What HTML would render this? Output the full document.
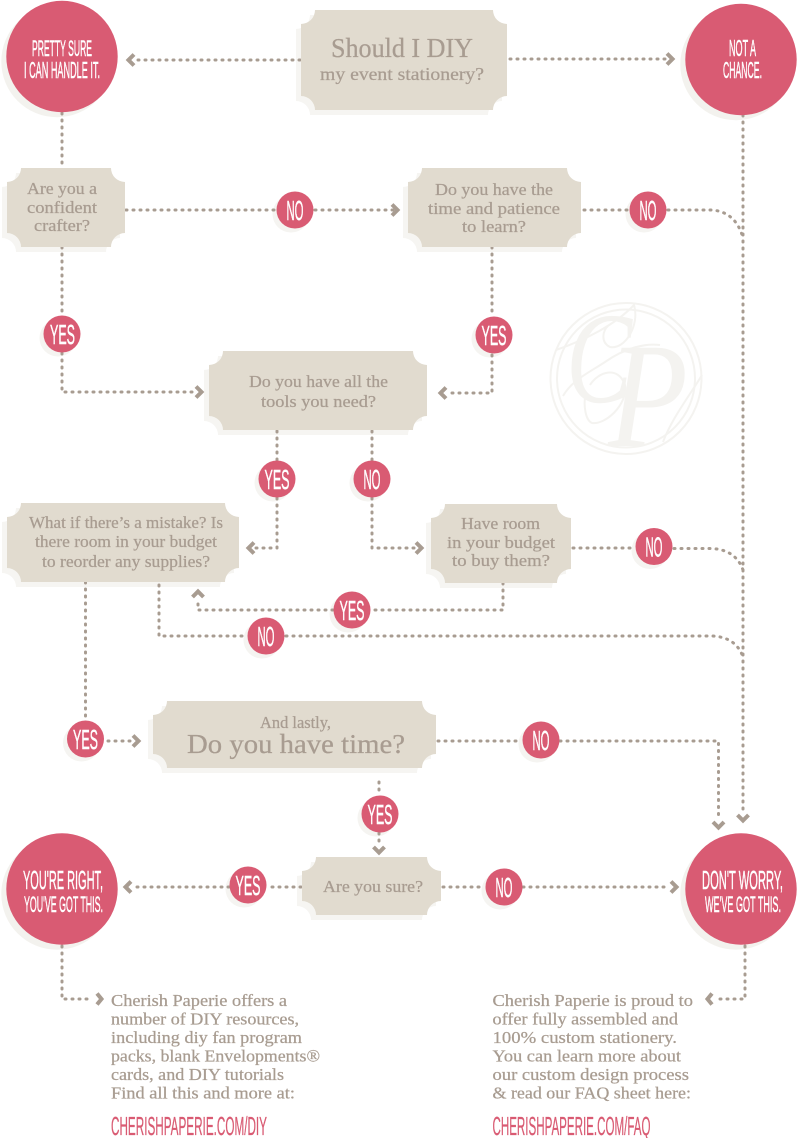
<!DOCTYPE html>
<html><head><meta charset="utf-8"><title>Should I DIY my event stationery?</title>
<style>
html,body{margin:0;padding:0;background:#fff}
svg{display:block}
.s{font-family:"Liberation Serif",serif;fill:#a89c91;stroke:#a89c91;stroke-width:.25;text-anchor:start}
.n{font-family:"Liberation Sans Narrow","Liberation Sans",sans-serif;fill:#fff;stroke:#fff;stroke-width:.45;font-weight:400}
.d{fill:none;stroke:#a89c91;stroke-width:3;stroke-linecap:round;stroke-dasharray:1 6}
.a{fill:none;stroke:#a89c91;stroke-width:4}
.p{fill:#d95b73}
</style></head><body>
<svg width="797" height="1138" viewBox="0 0 797 1138" xmlns="http://www.w3.org/2000/svg">
<defs>
<g id="boxes">
<path d="M315,10H493A14 14 0 0 0 507,24V96A14 14 0 0 0 493,110H315A14 14 0 0 0 301,96V24A14 14 0 0 0 315,10Z"/>
<path d="M21,168H111A14 14 0 0 0 125,182V233A14 14 0 0 0 111,247H21A14 14 0 0 0 7,233V182A14 14 0 0 0 21,168Z"/>
<path d="M422,168H567A14 14 0 0 0 581,182V233A14 14 0 0 0 567,247H422A14 14 0 0 0 408,233V182A14 14 0 0 0 422,168Z"/>
<path d="M223,351H413A14 14 0 0 0 427,365V416A14 14 0 0 0 413,430H223A14 14 0 0 0 209,416V365A14 14 0 0 0 223,351Z"/>
<path d="M21,503H225A14 14 0 0 0 239,517V568A14 14 0 0 0 225,582H21A14 14 0 0 0 7,568V517A14 14 0 0 0 21,503Z"/>
<path d="M445,504H557A14 14 0 0 0 571,518V569A14 14 0 0 0 557,583H445A14 14 0 0 0 431,569V518A14 14 0 0 0 445,504Z"/>
<path d="M167,701H422A14 14 0 0 0 436,715V754A14 14 0 0 0 422,768H167A14 14 0 0 0 153,754V715A14 14 0 0 0 167,701Z"/>
<path d="M316,857H427A14 14 0 0 0 441,871V901A14 14 0 0 0 427,915H316A14 14 0 0 0 302,901V871A14 14 0 0 0 316,857Z"/>
</g>
<g id="big">
<circle cx="62" cy="56.5" r="55.7"/>
<circle cx="741" cy="59.5" r="55.7"/>
<circle cx="62" cy="889" r="55.7"/>
<circle cx="741" cy="889" r="55.7"/>
</g>
<g id="small">
<circle cx="295" cy="210" r="18.5"/>
<circle cx="648" cy="210" r="18.5"/>
<circle cx="62" cy="334" r="18.5"/>
<circle cx="494" cy="335" r="18.5"/>
<circle cx="277" cy="479" r="18.5"/>
<circle cx="372" cy="479" r="18.5"/>
<circle cx="654" cy="546.5" r="18.5"/>
<circle cx="352" cy="610" r="18.5"/>
<circle cx="266" cy="636" r="18.5"/>
<circle cx="85.5" cy="739" r="18.5"/>
<circle cx="541" cy="740" r="18.5"/>
<circle cx="380" cy="814" r="18.5"/>
<circle cx="248" cy="885" r="18.5"/>
<circle cx="504" cy="887" r="18.5"/>
</g>
</defs>

<!-- watermark -->
<g fill="none" stroke="#f4f3f0" stroke-width="2">
<circle cx="626" cy="378.5" r="75.5"/>
<circle cx="626" cy="378.5" r="69"/>
<path d="M556,350C585,340 615,325 634,305C640,325 625,350 610,347C600,342 603,330 608,326"/>
<path d="M563,396C572,380 590,372 605,362C625,348 645,343 660,345"/>
<path d="M590,385C598,372 618,365 625,385C628,405 605,425 592,423C585,420 584,405 585,398"/>
<path d="M663,442C672,418 690,395 702,375"/>
</g>
<text x="566" y="402" font-family="Liberation Serif,serif" font-style="italic" font-size="130" textLength="66" lengthAdjust="spacingAndGlyphs" fill="#f4f3f0">C</text>
<text x="608" y="446" font-family="Liberation Serif,serif" font-style="italic" font-size="150" textLength="80" lengthAdjust="spacingAndGlyphs" fill="#f4f3f0">P</text>

<!-- shadows -->
<use href="#boxes" transform="translate(-5,5)" fill="#f6f5f2"/>
<use href="#big" transform="translate(-5,5)" fill="#f3f2ee"/>
<use href="#small" transform="translate(-4,4)" fill="#f5f4f1"/>

<!-- connectors -->
<path class="d" d="M300,60H136"/>
<path class="d" d="M510,59H666"/>
<path class="d" d="M62,113V168"/>
<path class="d" d="M126,210H277"/>
<path class="d" d="M315,210H394"/>
<path class="d" d="M62,247V316"/>
<path class="d" d="M62,353V392H196"/>
<path class="d" d="M584,210H629"/>
<path class="d" d="M668,210H712Q736,212 743,238"/>
<path class="d" d="M743,115V813"/>
<path class="d" d="M492,247V316"/>
<path class="d" d="M492,355V393H447"/>
<path class="d" d="M277,431V460"/>
<path class="d" d="M372,431V460"/>
<path class="d" d="M277,498V548H256"/>
<path class="d" d="M372,498V548H416"/>
<path class="d" d="M573,548H635"/>
<path class="d" d="M674,548.500H712Q736,550 743,570"/>
<path class="d" d="M503,583V610H371"/>
<path class="d" d="M333,610H198V598"/>
<path class="d" d="M159,585V636H247"/>
<path class="d" d="M286,636H712Q736,637 743,657"/>
<path class="d" d="M85.500,582V720"/>
<path class="d" d="M108,741H131"/>
<path class="d" d="M438,741H522"/>
<path class="d" d="M560,741H718.500V820"/>
<path class="d" d="M379,782V796"/>
<path class="d" d="M379,833V846"/>
<path class="d" d="M301,887H267"/>
<path class="d" d="M229,887H132"/>
<path class="d" d="M443,887H485"/>
<path class="d" d="M523,887H670"/>
<path class="d" d="M62,946V999H90"/>
<path class="d" d="M745,946V999H718"/>

<!-- arrowheads -->
<path class="a" d="M134,54.500L128.500,60L134,65.500"/>
<path class="a" d="M667,53.500L672.500,59L667,64.500"/>
<path class="a" d="M392,204.500L397.500,210L392,215.500"/>
<path class="a" d="M196,386.500L201.500,392L196,397.500"/>
<path class="a" d="M446,387.500L440.500,393L446,398.500"/>
<path class="a" d="M254,542.500L248.500,548L254,553.500"/>
<path class="a" d="M416,542.500L421.500,548L416,553.500"/>
<path class="a" d="M192.500,597L198,591.500L203.500,597"/>
<path class="a" d="M133,735.500L138.500,741L133,746.500"/>
<path class="a" d="M713,822L718.500,827.500L724,822"/>
<path class="a" d="M737.500,815L743,820.500L748.500,815"/>
<path class="a" d="M373.500,847L379,852.500L384.500,847"/>
<path class="a" d="M131,881.500L125.500,887L131,892.500"/>
<path class="a" d="M671,881.500L676.500,887L671,892.500"/>
<path class="a" d="M97,993.500L101.500,999L97,1004.500"/>
<path class="a" d="M712,993.500L707.500,999L712,1004.500"/>

<!-- boxes and circles -->
<use href="#boxes" fill="#e1dbcf"/>
<use href="#big" class="p"/>
<use href="#small" class="p"/>

<!-- box text -->
<g class="s">
<text x="331" y="57" font-size="27" textLength="142" lengthAdjust="spacingAndGlyphs">Should I DIY</text>
<text x="320" y="80" font-size="18" textLength="164" lengthAdjust="spacingAndGlyphs">my event stationery?</text>
<g font-size="16.500">
<text x="27" y="194" textLength="70" lengthAdjust="spacingAndGlyphs">Are you a</text>
<text x="27" y="213" textLength="70" lengthAdjust="spacingAndGlyphs">confident</text>
<text x="34" y="231" textLength="56" lengthAdjust="spacingAndGlyphs">crafter?</text>
<text x="435" y="195" textLength="118" lengthAdjust="spacingAndGlyphs">Do you have the</text>
<text x="428" y="214" textLength="132" lengthAdjust="spacingAndGlyphs">time and patience</text>
<text x="462" y="232" textLength="64" lengthAdjust="spacingAndGlyphs">to learn?</text>
<text x="249" y="387" textLength="139" lengthAdjust="spacingAndGlyphs">Do you have all the</text>
<text x="261" y="407" textLength="115" lengthAdjust="spacingAndGlyphs">tools you need?</text>
<text x="29" y="528" textLength="194" lengthAdjust="spacingAndGlyphs">What if there’s a mistake? Is</text>
<text x="35" y="547" textLength="182" lengthAdjust="spacingAndGlyphs">there room in your budget</text>
<text x="42" y="567" textLength="168" lengthAdjust="spacingAndGlyphs">to reorder any supplies?</text>
<text x="461" y="529" textLength="79" lengthAdjust="spacingAndGlyphs">Have room</text>
<text x="447" y="548" textLength="108" lengthAdjust="spacingAndGlyphs">in your budget</text>
<text x="452" y="566" textLength="98" lengthAdjust="spacingAndGlyphs">to buy them?</text>
<text x="260" y="728" textLength="71" lengthAdjust="spacingAndGlyphs">And lastly,</text>
<text x="323" y="892" textLength="100" lengthAdjust="spacingAndGlyphs">Are you sure?</text>
</g>
<text x="187" y="753" font-size="27" textLength="218" lengthAdjust="spacingAndGlyphs">Do you have time?</text>
<g font-size="16.500">
<text x="111" y="1006" textLength="176" lengthAdjust="spacingAndGlyphs">Cherish Paperie offers a</text>
<text x="111" y="1024.500" textLength="188" lengthAdjust="spacingAndGlyphs">number of DIY resources,</text>
<text x="111" y="1043" textLength="191" lengthAdjust="spacingAndGlyphs">including diy fan program</text>
<text x="111" y="1061.500" textLength="209" lengthAdjust="spacingAndGlyphs">packs, blank Envelopments®</text>
<text x="111" y="1080" textLength="173" lengthAdjust="spacingAndGlyphs">cards, and DIY tutorials</text>
<text x="111" y="1098.500" textLength="184" lengthAdjust="spacingAndGlyphs">Find all this and more at:</text>
<text x="492.500" y="1006" textLength="200.500" lengthAdjust="spacingAndGlyphs">Cherish Paperie is proud to</text>
<text x="492.500" y="1024.500" textLength="185.500" lengthAdjust="spacingAndGlyphs">offer fully assembled and</text>
<text x="492.500" y="1043" textLength="184.500" lengthAdjust="spacingAndGlyphs">100% custom stationery.</text>
<text x="492.500" y="1061.500" textLength="188.500" lengthAdjust="spacingAndGlyphs">You can learn more about</text>
<text x="492.500" y="1080" textLength="196.500" lengthAdjust="spacingAndGlyphs">our custom design process</text>
<text x="492.500" y="1098.500" textLength="198.500" lengthAdjust="spacingAndGlyphs">&amp; read our FAQ sheet here:</text>
</g>
</g>

<!-- condensed text -->
<g class="n">
<text x="32" y="56" font-size="22" textLength="60" lengthAdjust="spacingAndGlyphs">PRETTY SURE</text>
<text x="24" y="78" font-size="23" textLength="76" lengthAdjust="spacingAndGlyphs">I CAN HANDLE IT.</text>
<text x="729" y="56" font-size="23" textLength="27" lengthAdjust="spacingAndGlyphs">NOT A</text>
<text x="723" y="78" font-size="23" textLength="39" lengthAdjust="spacingAndGlyphs">CHANCE.</text>
<text x="23" y="889" font-size="26" textLength="80" lengthAdjust="spacingAndGlyphs">YOU'RE RIGHT,</text>
<text x="24" y="912" font-size="22" textLength="79" lengthAdjust="spacingAndGlyphs">YOU'VE GOT THIS.</text>
<text x="702" y="889" font-size="26" textLength="81" lengthAdjust="spacingAndGlyphs">DON'T WORRY,</text>
<text x="705" y="912" font-size="22" textLength="76" lengthAdjust="spacingAndGlyphs">WE'VE GOT THIS.</text>
<g font-size="28">
<text x="286.500" y="220" textLength="17" lengthAdjust="spacingAndGlyphs">NO</text>
<text x="639.500" y="220" textLength="17" lengthAdjust="spacingAndGlyphs">NO</text>
<text x="50" y="344" textLength="25" lengthAdjust="spacingAndGlyphs">YES</text>
<text x="481.500" y="345" textLength="25" lengthAdjust="spacingAndGlyphs">YES</text>
<text x="264.500" y="489" textLength="25" lengthAdjust="spacingAndGlyphs">YES</text>
<text x="363.500" y="489" textLength="17" lengthAdjust="spacingAndGlyphs">NO</text>
<text x="645.500" y="556.500" textLength="17" lengthAdjust="spacingAndGlyphs">NO</text>
<text x="339.500" y="620" textLength="25" lengthAdjust="spacingAndGlyphs">YES</text>
<text x="257.500" y="646" textLength="17" lengthAdjust="spacingAndGlyphs">NO</text>
<text x="73" y="749" textLength="25" lengthAdjust="spacingAndGlyphs">YES</text>
<text x="532.500" y="750" textLength="17" lengthAdjust="spacingAndGlyphs">NO</text>
<text x="367.500" y="824" textLength="25" lengthAdjust="spacingAndGlyphs">YES</text>
<text x="235.500" y="895" textLength="25" lengthAdjust="spacingAndGlyphs">YES</text>
<text x="495.500" y="897" textLength="17" lengthAdjust="spacingAndGlyphs">NO</text>
</g>
<text x="111" y="1135" font-size="26" textLength="156" lengthAdjust="spacingAndGlyphs" style="fill:#d95b73;stroke:#d95b73;stroke-width:.3">CHERISHPAPERIE.COM/DIY</text>
<text x="492.500" y="1135" font-size="26" textLength="158" lengthAdjust="spacingAndGlyphs" style="fill:#d95b73;stroke:#d95b73;stroke-width:.3">CHERISHPAPERIE.COM/FAQ</text>
</g>
</svg>
</body></html>
